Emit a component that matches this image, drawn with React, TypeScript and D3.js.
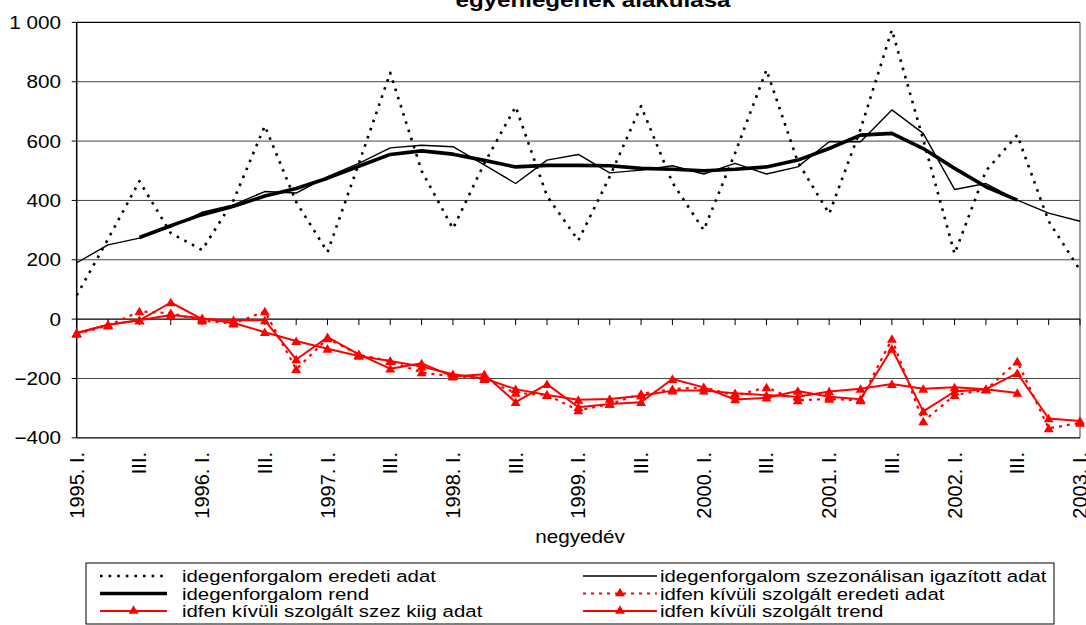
import React from "react";
import * as d3 from "d3";

// ---- data ----
const categories: string[] = [
  "1995. I.", "1995. II.", "1995. III.", "1995. IV.",
  "1996. I.", "1996. II.", "1996. III.", "1996. IV.",
  "1997. I.", "1997. II.", "1997. III.", "1997. IV.",
  "1998. I.", "1998. II.", "1998. III.", "1998. IV.",
  "1999. I.", "1999. II.", "1999. III.", "1999. IV.",
  "2000. I.", "2000. II.", "2000. III.", "2000. IV.",
  "2001. I.", "2001. II.", "2001. III.", "2001. IV.",
  "2002. I.", "2002. II.", "2002. III.", "2002. IV.",
  "2003. I.",
];
const tickLabels: string[] = [
  "1995. I.", "", "III.", "",
  "1996. I.", "", "III.", "",
  "1997. I.", "", "III.", "",
  "1998. I.", "", "III.", "",
  "1999. I.", "", "III.", "",
  "2000. I.", "", "III.", "",
  "2001. I.", "", "III.", "",
  "2002. I.", "", "III.", "",
  "2003. I.",
];
const yTicks: number[] = [-400, -200, 0, 200, 400, 600, 800, 1000];

const idegenEredeti: (number | null)[] = [80, 270, 465, 290, 233, 400, 651, 395, 226, 525, 830, 500, 305, 525, 716, 415, 265, 480, 718, 460, 300, 560, 840, 530, 355, 640, 975, 605, 220, 500, 620, 330, 165];
const idegenSzez: (number | null)[] = [190, 250, 273, 310, 360, 385, 430, 425, 480, 525, 577, 586, 581, 520, 457, 536, 555, 493, 502, 517, 489, 525, 489, 513, 598, 598, 705, 626, 437, 457, 401, 357, 330];
const idegenTrend: (number | null)[] = [null, null, 275, 315, 352, 380, 415, 440, 475, 515, 555, 567, 556, 535, 513, 518, 518, 517, 508, 505, 500, 505, 513, 536, 575, 620, 626, 575, 508, 446, 401, null, null];
const szolgEredeti: (number | null)[] = [-50, -22, 26, 20, -5, -15, 26, -169, -65, -120, -142, -180, -193, -202, -249, -255, -308, -286, -252, -236, -230, -258, -230, -274, -269, -274, -67, -345, -256, -238, -143, -368, -350];
const szolgSzez: (number | null)[] = [-47, -19, -4, 56, 0, -4, -4, -136, -61, -119, -167, -149, -193, -186, -280, -219, -297, -286, -280, -202, -230, -271, -265, -242, -262, -270, -100, -311, -244, -236, -182, -335, -343];
const szolgTrend: (number | null)[] = [-47, -19, -4, 14, 3, -13, -44, -74, -100, -124, -141, -160, -186, -200, -236, -256, -272, -269, -258, -241, -241, -250, -256, -262, -244, -235, -219, -235, -230, -236, -249, null, null];

const titleText = "egyenlegének alakulása";
const xAxisTitle = "negyedév";
const legendItems: string[] = [
  "idegenforgalom eredeti adat",
  "idegenforgalom szezonálisan igazított adat",
  "idegenforgalom rend",
  "idfen kívüli szolgált eredeti adat",
  "idfen kívüli szolgált szez kiig adat",
  "idfen kívüli szolgált trend",
];

// ---- layout ----
const W = 1086;
const H = 625;
const plotL = 76.7;
const plotR = 1080;
const plotT = 22.4;
const plotB = 437.8;
const FONT = "'Liberation Sans', Arial, sans-serif";
const SX = 1.15;

type Style = { stroke: string; width: number; dash?: string; marker?: boolean };
const styles: Style[] = [
  { stroke: "#000", width: 2.6, dash: "2.6 6" },
  { stroke: "#000", width: 1.4 },
  { stroke: "#000", width: 3.6 },
  { stroke: "#ff0000", width: 2.2, dash: "3 5", marker: true },
  { stroke: "#ff0000", width: 2, marker: true },
  { stroke: "#ff0000", width: 2, marker: true },
];
const seriesData = [idegenEredeti, idegenSzez, idegenTrend, szolgEredeti, szolgSzez, szolgTrend];

export default function App() {
  const x = d3.scaleLinear().domain([0, categories.length - 1]).range([plotL, plotR]);
  const y = d3.scaleLinear().domain([-400, 1000]).range([plotB, plotT]);
  const line = d3
    .line<number | null>()
    .defined((d) => d !== null)
    .x((_, i) => x(i))
    .y((d) => y(d as number));
  const tri = d3.symbol(d3.symbolTriangle, 42)() as string;

  const drawOrder = [3, 4, 5, 0, 1, 2];

  return (
    <svg
      width={W}
      height={H}
      style={{ position: "absolute", left: 0, top: 0, background: "#fff" }}
      fontFamily={FONT}
    >
      <rect x={0} y={0} width={W} height={H} fill="#fff" />
      {/* title (partially cut at top, as in the reference) */}
      <text
        transform={`translate(${593},${7}) scale(${SX},1)`}
        textAnchor="middle"
        fontWeight="bold"
        fontSize={21}
      >
        {titleText}
      </text>

      {/* gridlines */}
      {yTicks
        .filter((t) => t !== 0 && t !== -400 && t !== 1000)
        .map((t) => (
          <line key={"g" + t} x1={plotL} x2={plotR} y1={y(t)} y2={y(t)} stroke="#444" strokeWidth={1} />
        ))}
      {/* plot border */}
      <line x1={plotL} x2={plotR} y1={plotT} y2={plotT} stroke="#000" strokeWidth={1.3} />
      <line x1={plotR} x2={plotR} y1={plotT} y2={plotB} stroke="#666" strokeWidth={1.3} />
      <line x1={plotL} x2={plotR} y1={plotB} y2={plotB} stroke="#000" strokeWidth={1.3} />
      <line x1={plotL} x2={plotL} y1={plotT} y2={plotB} stroke="#000" strokeWidth={1.5} />
      {/* y ticks and labels */}
      {yTicks.map((t) => (
        <g key={"yt" + t}>
          <line x1={plotL - 5} x2={plotL} y1={y(t)} y2={y(t)} stroke="#000" strokeWidth={1} />
          <text
            transform={`translate(${61},${y(t) + 6.5}) scale(${SX},1)`}
            textAnchor="end"
            fontSize={18}
          >
            {d3.format(",")(t).replace(",", "\u00a0")}
          </text>
        </g>
      ))}
      {/* zero axis with ticks */}
      <line x1={plotL} x2={plotR} y1={y(0)} y2={y(0)} stroke="#000" strokeWidth={1.3} />
      {categories.map((c, i) => (
        <line key={"xt" + c} x1={x(i)} x2={x(i)} y1={y(0)} y2={y(0) + 6} stroke="#000" strokeWidth={1} />
      ))}
      {/* x labels */}
      {tickLabels.map((lab, i) =>
        lab ? (
          <text
            key={"xl" + i}
            transform={`translate(${x(i) + 7},${452}) rotate(-90)`}
            textAnchor="end"
            fontSize={20}
          >
            {lab}
          </text>
        ) : null
      )}
      <text transform={`translate(${580},${543}) scale(${SX},1)`} textAnchor="middle" fontSize={18}>
        {xAxisTitle}
      </text>

      {/* series */}
      {drawOrder.map((si) => {
        const s = styles[si];
        const data = seriesData[si];
        return (
          <g key={"s" + si}>
            <path
              d={line(data) as string}
              fill="none"
              stroke={s.stroke}
              strokeWidth={s.width}
              strokeDasharray={s.dash}
              strokeLinejoin="round"
            />
            {s.marker &&
              data.map((v, i) =>
                v === null ? null : (
                  <path key={i} d={tri} transform={`translate(${x(i)},${y(v) + 1})`} fill={s.stroke} />
                )
              )}
          </g>
        );
      })}

      {/* legend */}
      <rect x={86} y={563} width={968} height={61} fill="none" stroke="#000" strokeWidth={1} />
      {legendItems.map((lab, k) => {
        const col = k % 2;
        const row = Math.floor(k / 2);
        const lx1 = col === 0 ? 100 : 583;
        const lx2 = col === 0 ? 167 : 657;
        const tx = col === 0 ? 182 : 660;
        const ly = 576 + row * 17.5;
        const s = styles[k];
        return (
          <g key={"lg" + k}>
            <line
              x1={lx1}
              x2={lx2}
              y1={ly}
              y2={ly}
              stroke={s.stroke}
              strokeWidth={s.width}
              strokeDasharray={s.dash}
            />
            {s.marker && <path d={tri} transform={`translate(${(lx1 + lx2) / 2},${ly})`} fill={s.stroke} />}
            <text transform={`translate(${tx},${ly + 6}) scale(1.2,1)`} fontSize={17}>
              {lab}
            </text>
          </g>
        );
      })}
    </svg>
  );
}
